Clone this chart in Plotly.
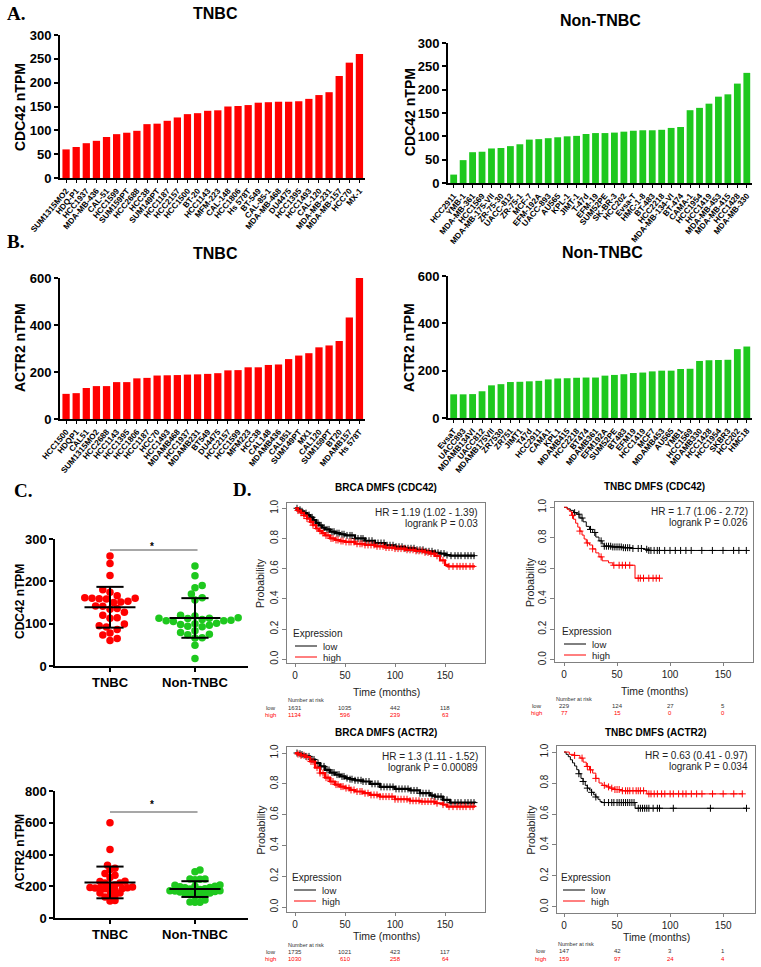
import numpy as np
import plotly.graph_objects as go

W, H = 761, 967
FONT = "Arial"
SERIF = "Liberation Serif"
RED = "#FF0000"
GREEN = "#1EC81E"

# ---------------- Data ----------------
tnbc_cdc42_lines = ["SUM1315MO2", "HDQ-P1", "HCC1937", "MDA-MB-436", "CAL-51", "HCC1599", "SUM159PT",
                    "HCC2688", "HCC38", "SUM149PT", "HCC1187", "HCC2157", "HCC1500", "BT-20", "HCC1143",
                    "MFM-223", "CAL-148", "HCC1806", "Hs 578T", "BT-549", "CAL-85-1", "MDA-MB-468",
                    "DU4475", "HCC1395", "HCC1493", "CAL-120", "MDA-MB-231", "MDA-MB-157", "HCC70", "MX-1"]
tnbc_cdc42_vals = [60, 65, 73, 78, 86, 92, 95, 99, 113, 114, 120, 127, 134, 136, 141, 142, 150, 151,
                   153, 158, 159, 160, 160, 161, 166, 174, 180, 214, 242, 260]

non_cdc42_lines = ["HCC2911", "YMB-1", "MDA-MB-361", "HCC1569", "MDA-MB-175-VII", "ZR-75-30", "UACC-812",
                   "ZR-75-1", "MCF-7", "EFM-192A", "UACC-893", "AU565", "KPL-1", "JIMT-1", "T-47d",
                   "EFM-19", "SUM52PE", "SK-BR-3", "HCC202", "Evsa-T", "HMC-1-8", "BT-483", "HCC2218",
                   "MDA-MB-134-VI", "BT-474", "CAMA-1", "HCC1954", "HCC1419", "MDA-MB-453", "MDA-MB-415",
                   "HCC1428", "MDA-MB-330"]
non_cdc42_vals = [18, 49, 66, 67, 74, 75, 79, 83, 93, 94, 96, 98, 100, 101, 105, 107, 107, 108, 110,
                  112, 113, 113, 114, 118, 120, 156, 161, 170, 185, 190, 213, 236]

tnbc_actr2_lines = ["HCC1500", "HDQP1", "CAL51", "SUM1315MO2", "HCC2688", "HCC1143", "HCC1395", "HCC1806",
                    "HCC1187", "HCC70", "HCC1493", "MDAMB468", "HCC1937", "MDAMB231", "BT549", "DU4475",
                    "HCC2157", "HCC1599", "MFM223", "HCC38", "CAL148", "MDAMB436", "CAL851", "SUM149PT",
                    "MX1", "CAL120", "SUM159PT", "BT20", "MDAMB157", "Hs 578T"]
tnbc_actr2_vals = [107, 110, 132, 140, 140, 157, 157, 173, 175, 185, 186, 187, 189, 190, 192, 195, 207,
                   208, 220, 220, 230, 232, 255, 270, 280, 305, 313, 332, 432, 600]

non_actr2_lines = ["EvsaT", "UACC893", "MDAMB134VI", "UACC812", "MDAMB175VII", "ZR7530", "ZR751", "JIMT1",
                   "T47d", "HCC2911", "CAMA1", "KPL1", "MDAMB415", "HCC2218", "BT474", "MDAMB361",
                   "EFM192A", "SUM52PE", "BT483", "EFM19", "HCC1419", "MCF7", "MDAMB453", "AU565", "YMB1",
                   "HCC1569", "MDAMB330", "HCC1428", "HCC1954", "SKBR3", "HCC202", "HMC18"]
non_actr2_vals = [100, 100, 101, 113, 138, 143, 152, 153, 155, 157, 163, 167, 168, 170, 171, 171, 179,
                  182, 185, 190, 192, 197, 200, 200, 207, 208, 241, 244, 245, 246, 291, 302]

group_labels = ["TNBC", "Non-TNBC"]

# Kaplan-Meier curves (time in months, survival probability)
brca_cdc42_low_t = [0, 3, 6, 9, 12, 15, 18, 21, 24, 27, 30, 35, 40, 45, 50, 60, 70, 80, 90, 100, 110, 120,
                    130, 140, 145, 150, 155, 180]
brca_cdc42_low_s = [1.0, 0.99, 0.98, 0.968, 0.955, 0.94, 0.922, 0.903, 0.887, 0.872, 0.86, 0.845, 0.835,
                    0.828, 0.82, 0.80, 0.785, 0.77, 0.755, 0.745, 0.735, 0.725, 0.715, 0.705, 0.70, 0.69,
                    0.686, 0.686]
brca_cdc42_high_t = [0, 3, 6, 9, 12, 15, 18, 21, 24, 27, 30, 35, 40, 45, 50, 60, 70, 80, 90, 100, 110, 120,
                     130, 135, 140, 145, 150, 153, 180]
brca_cdc42_high_s = [1.0, 0.985, 0.97, 0.952, 0.932, 0.91, 0.888, 0.866, 0.85, 0.835, 0.82, 0.80, 0.79,
                     0.783, 0.777, 0.765, 0.757, 0.748, 0.74, 0.733, 0.725, 0.718, 0.708, 0.70, 0.685, 0.655,
                     0.625, 0.615, 0.615]

tnbc_cdc42_low_t = [0, 3, 6, 9, 12, 15, 18, 21, 24, 27, 30, 33, 36, 38, 45, 55, 65, 75, 80, 172]
tnbc_cdc42_low_s = [1.0, 0.99, 0.98, 0.965, 0.955, 0.93, 0.905, 0.875, 0.855, 0.835, 0.805, 0.78, 0.76,
                    0.745, 0.74, 0.735, 0.73, 0.725, 0.717, 0.717]
tnbc_cdc42_high_t = [0, 3, 5, 7, 9, 11, 13, 15, 17, 19, 21, 24, 27, 30, 33, 36, 42, 46, 67, 90]
tnbc_cdc42_high_s = [1.0, 0.987, 0.974, 0.948, 0.922, 0.896, 0.87, 0.844, 0.818, 0.792, 0.766, 0.753,
                     0.727, 0.701, 0.675, 0.649, 0.636, 0.62, 0.535, 0.535]

brca_actr2_low_t = [0, 3, 6, 10, 15, 20, 25, 30, 35, 40, 45, 50, 55, 60, 68, 75, 85, 100, 115, 125, 135,
                    140, 148, 155, 180]
brca_actr2_low_s = [1.0, 0.995, 0.99, 0.978, 0.958, 0.935, 0.913, 0.89, 0.873, 0.86, 0.848, 0.837, 0.83,
                    0.823, 0.815, 0.80, 0.78, 0.767, 0.757, 0.739, 0.725, 0.717, 0.696, 0.678, 0.675]
brca_actr2_high_t = [0, 3, 6, 10, 15, 20, 25, 30, 35, 40, 45, 50, 55, 60, 68, 75, 85, 100, 115, 125, 140,
                     148, 152, 180]
brca_actr2_high_s = [1.0, 0.993, 0.985, 0.974, 0.945, 0.905, 0.87, 0.84, 0.815, 0.795, 0.782, 0.772, 0.76,
                     0.75, 0.739, 0.728, 0.717, 0.70, 0.69, 0.685, 0.674, 0.665, 0.652, 0.65]

tnbc_actr2_low_t = [0, 2, 4, 6, 8, 10, 12, 14, 16, 18, 20, 22, 24, 26, 28, 30, 32, 34, 36, 67, 172]
tnbc_actr2_low_s = [1.0, 0.985, 0.97, 0.95, 0.93, 0.91, 0.886, 0.86, 0.83, 0.81, 0.785, 0.767, 0.755,
                    0.74, 0.724, 0.71, 0.695, 0.68, 0.674, 0.637, 0.637]
tnbc_actr2_high_t = [0, 5, 10, 15, 18, 21, 24, 27, 30, 33, 36, 40, 43, 48, 53, 78, 168]
tnbc_actr2_high_s = [1.0, 0.985, 0.978, 0.961, 0.935, 0.907, 0.885, 0.864, 0.83, 0.80, 0.785, 0.775,
                     0.767, 0.758, 0.75, 0.73, 0.73]

# censoring times
brca_low_cens = [2, 5, 7, 11, 14, 17, 19, 23, 26, 29, 32, 34, 37, 39, 42, 44, 47, 49, 52, 55, 57, 60, 63,
                 66, 68, 71, 74, 77, 80, 83, 86, 89, 92, 95, 98, 101, 104, 107, 110, 113, 116, 119, 122,
                 125, 128, 131, 134, 137, 140, 143, 146, 149, 152, 156, 160, 163, 166, 170, 173, 176, 179]
brca_high_cens = [3, 6, 9, 12, 16, 18, 22, 25, 28, 31, 33, 36, 38, 41, 43, 46, 48, 51, 54, 56, 59, 62,
                  65, 67, 70, 73, 76, 79, 82, 85, 88, 91, 94, 97, 100, 103, 106, 109, 112, 115, 118, 121,
                  124, 127, 130, 133, 136, 139, 142, 148, 154, 158, 162, 165, 168, 171, 175, 178]
tnbc_cdc42_low_cens = [10, 14, 17, 25, 29, 35, 38, 40, 42, 44, 46, 48, 50, 52, 54, 56, 58, 60, 62, 65, 70,
                       73, 78, 80, 82, 85, 88, 90, 95, 100, 105, 110, 115, 120, 130, 140, 150, 160, 165, 172]
tnbc_cdc42_high_cens = [8, 15, 22, 27, 35, 47, 52, 55, 58, 62, 70, 72, 75, 80, 84, 87, 90]
tnbc_actr2_high_cens = [10, 17, 22, 25, 30, 38, 42, 45, 48, 50, 52, 55, 58, 60, 62, 65, 68, 70, 72, 75, 80,
                        82, 85, 88, 92, 95, 100, 103, 108, 112, 115, 120, 125, 130, 140, 150, 160, 168]
tnbc_actr2_low_cens = [14, 18, 22, 26, 30, 38, 42, 45, 47, 50, 52, 54, 56, 58, 60, 62, 64, 66, 70, 72, 74,
                       76, 78, 80, 84, 88, 90, 103, 138, 172]

risk_times = [0, 50, 100, 150]
brca_cdc42_risk_low = [1631, 1035, 442, 118]
brca_cdc42_risk_high = [1134, 596, 239, 63]
tnbc_cdc42_risk_low = [229, 124, 27, 5]
tnbc_cdc42_risk_high = [77, 15, 0, 0]
brca_actr2_risk_low = [1735, 1021, 423, 117]
brca_actr2_risk_high = [1030, 610, 258, 64]
tnbc_actr2_risk_low = [147, 42, 3, 1]
tnbc_actr2_risk_high = [159, 97, 24, 4]

# ---------------- Figure ----------------
fig = go.Figure()
layout = dict(template="none", width=W, height=H, autosize=False,
              margin=dict(l=0, r=0, t=0, b=0, pad=0), paper_bgcolor="white",
              plot_bgcolor="white", showlegend=False, bargap=0.28,
              font=dict(family=FONT, color="black"))
annotations = []
shapes = []


def X(p):
    return p / W


def Y(p):
    return 1 - p / H


def axn(kind, i):
    return f"{kind}axis" if i == 1 else f"{kind}axis{i}"


def ref(kind, i):
    return kind if i == 1 else f"{kind}{i}"


def txt(x, y, s, size=10, color="black", bold=False, xanchor="center", yanchor="middle", angle=0,
        family=FONT):
    annotations.append(dict(x=X(x), y=Y(y), xref="paper", yref="paper", text=s, showarrow=False,
                            font=dict(size=size, color=color, family=family,
                                      weight="bold" if bold else "normal"),
                            xanchor=xanchor, yanchor=yanchor, textangle=angle, borderpad=0))


def vtxt(x, y, s, size, bold=False, color="black"):
    txt(x, y, s, size=size, bold=bold, angle=-90, color=color)


def bar_panel(i, cats, vals, color, x0, x1, ytop, ybot, ymax, dtick):
    fig.add_trace(go.Bar(x=cats, y=vals, marker=dict(color=color, line=dict(width=0)),
                         xaxis=ref("x", i), yaxis=ref("y", i), hoverinfo="x+y"))
    layout[axn("x", i)] = dict(domain=[X(x0), X(x1)], anchor=ref("y", i), type="category",
                               range=[-0.6, len(cats) - 0.45], tickangle=-50, automargin=False,
                               tickmode="array", tickvals=cats, ticktext=cats,
                               tickfont=dict(size=8.2, weight="bold", family=FONT, color="black"),
                               showline=True, linecolor="black", linewidth=2, ticks="outside",
                               ticklen=3, tickwidth=1, tickcolor="black", showgrid=False, zeroline=False)
    layout[axn("y", i)] = dict(domain=[Y(ybot), Y(ytop)], anchor=ref("x", i), range=[0, ymax],
                               dtick=dtick, automargin=False,
                               tickfont=dict(size=13, weight="bold", family=FONT, color="black"),
                               showline=True, linecolor="black", linewidth=2, ticks="outside",
                               ticklen=4, tickwidth=2, tickcolor="black", showgrid=False, zeroline=False)


bar_panel(1, tnbc_cdc42_lines, tnbc_cdc42_vals, RED, 60, 365, 35, 178, 300, 50)
bar_panel(2, non_cdc42_lines, non_cdc42_vals, GREEN, 448, 752, 43, 183, 300, 50)
bar_panel(3, tnbc_actr2_lines, tnbc_actr2_vals, RED, 60, 365, 278, 419, 600, 200)
bar_panel(4, non_actr2_lines, non_actr2_vals, GREEN, 448, 752, 276, 418, 600, 200)

txt(215, 13, "TNBC", size=16, bold=True)
txt(600, 20, "Non-TNBC", size=16, bold=True)
txt(215, 253, "TNBC", size=16, bold=True)
txt(602, 252, "Non-TNBC", size=16, bold=True)
vtxt(20, 107, "CDC42 nTPM", 14, bold=True)
vtxt(410, 112, "CDC42 nTPM", 14, bold=True)
vtxt(20, 348, "ACTR2 nTPM", 14, bold=True)
vtxt(409, 347, "ACTR2 nTPM", 14, bold=True)


# ---------- Panel C: dot plots ----------
def swarm(vals, sy, sx, d):
    vals = np.asarray(vals, dtype=float)
    order = np.argsort(vals, kind="stable")
    placed = []
    offs = np.zeros(len(vals))
    cands = [0.0]
    for j in range(1, 60):
        cands += [j * d / 2, -j * d / 2]
    for idx in order:
        yv = vals[idx] * sy
        for c in cands:
            if all((c - px) ** 2 + (yv - py) ** 2 >= (d * 0.95) ** 2 for px, py in placed):
                break
        placed.append((c, yv))
        offs[idx] = c / sx
    return offs


def dot_panel(i, v1, v2, x0, x1, ytop, ybot, ymax, dtick, sig_y, star_y, title, ttl_y, sep):
    xr = [-0.647, 1.624]
    sx = (x1 - x0) / (xr[1] - xr[0])
    sy = (ybot - ytop) / ymax
    for g, (vals, color) in enumerate([(v1, RED), (v2, GREEN)]):
        offs = swarm(vals, sy, sx, sep)
        fig.add_trace(go.Scatter(x=g + offs, y=vals, mode="markers",
                                 marker=dict(color=color, size=7.5, line=dict(width=0)),
                                 xaxis=ref("x", i), yaxis=ref("y", i)))
        m = float(np.mean(vals))
        sd = float(np.std(vals, ddof=1))
        lx = [g - 0.3, g + 0.3, None, g, g, None, g - 0.16, g + 0.16, None, g - 0.16, g + 0.16]
        ly = [m, m, None, m - sd, m + sd, None, m - sd, m - sd, None, m + sd, m + sd]
        fig.add_trace(go.Scatter(x=lx, y=ly, mode="lines", line=dict(color="black", width=2),
                                 xaxis=ref("x", i), yaxis=ref("y", i), hoverinfo="skip"))
    fig.add_trace(go.Scatter(x=[0, 1.03], y=[sig_y, sig_y], mode="lines",
                             line=dict(color="#8a8a8a", width=1.5),
                             xaxis=ref("x", i), yaxis=ref("y", i), hoverinfo="skip"))
    annotations.append(dict(x=0.5, y=star_y, xref=ref("x", i), yref=ref("y", i), text="*",
                            showarrow=False, font=dict(size=10, weight="bold", color="black")))
    layout[axn("x", i)] = dict(domain=[X(x0), X(x1)], anchor=ref("y", i), range=xr, automargin=False,
                               tickvals=[0, 1], ticktext=group_labels,
                               tickfont=dict(size=13, weight="bold", family=FONT, color="black"),
                               showline=True, linecolor="black", linewidth=1.5, ticks="outside",
                               ticklen=4, tickwidth=1.5, tickcolor="black", showgrid=False, zeroline=False)
    layout[axn("y", i)] = dict(domain=[Y(ybot), Y(ytop)], anchor=ref("x", i), range=[0, ymax],
                               dtick=dtick, automargin=False,
                               tickfont=dict(size=13, weight="bold", family=FONT, color="black"),
                               showline=True, linecolor="black", linewidth=1.5, ticks="outside",
                               ticklen=4, tickwidth=1.5, tickcolor="black", showgrid=False, zeroline=False)
    vtxt(20, ttl_y, title, 12, bold=True)


dot_panel(5, tnbc_cdc42_vals, non_cdc42_vals, 55, 248, 539, 666, 300, 100, 274, 283,
          "CDC42 nTPM", 602, 7.2)
dot_panel(6, tnbc_actr2_vals, non_actr2_vals, 55, 248, 791, 918, 800, 200, 668, 715,
          "ACTR2 nTPM", 852, 5.0)


# ---------- Panel D: Kaplan-Meier ----------
def step_at(ts, ss, t):
    k = 0
    for j, tj in enumerate(ts):
        if tj <= t:
            k = j
    return ss[k]


def km_panel(i, cfg):
    bx0, bx1, by0, by1 = cfg["box"]
    for (ts, ss, cens, color, lw) in cfg["curves"]:
        fig.add_trace(go.Scatter(x=ts, y=ss, mode="lines", line=dict(color=color, width=lw, shape="hv"),
                                 xaxis=ref("x", i), yaxis=ref("y", i), hoverinfo="skip"))
        fig.add_trace(go.Scatter(x=cens, y=[step_at(ts, ss, c) for c in cens], mode="markers",
                                 marker=dict(symbol="cross-thin", size=5, line=dict(color=color, width=1)),
                                 xaxis=ref("x", i), yaxis=ref("y", i), hoverinfo="skip"))
    layout[axn("x", i)] = dict(domain=[X(bx0), X(bx1)], anchor=ref("y", i), range=cfg["xr"],
                               automargin=False,
                               tickvals=[0, 50, 100, 150], tickfont=dict(size=10, color="#222"),
                               showline=True, mirror=True, linecolor="#808080", linewidth=1,
                               ticks="outside", ticklen=3, tickcolor="#808080", showgrid=False,
                               zeroline=False)
    layout[axn("y", i)] = dict(domain=[Y(by1), Y(by0)], anchor=ref("x", i), range=cfg["yr"],
                               automargin=False,
                               tickvals=[0, 0.2, 0.4, 0.6, 0.8, 1.0],
                               ticktext=["0.0", "0.2", "0.4", "0.6", "0.8", "1.0"], tickangle=-90,
                               tickfont=dict(size=10, color="#222"), showline=True, mirror=True,
                               linecolor="#808080", linewidth=1, ticks="outside", ticklen=4,
                               tickcolor="#808080", showgrid=False, zeroline=False)
    cx = (bx0 + bx1) / 2
    txt(cx, cfg["title_y"], cfg["title"], size=10, bold=True)
    vtxt(cfg["prob_x"], (by0 + by1) / 2, "Probability", 10.5, color="#222")
    txt(cx, cfg["time_y"], "Time (months)", size=10.5, color="#222")
    txt(cfg["hr_x"], cfg["hr_y"], cfg["hr"], size=10, xanchor="right", color="#222")
    txt(cfg["hr_x"], cfg["hr_y"] + 11, cfg["lr"], size=10, xanchor="right", color="#222")
    lx0, lyE, lyL, lyH = cfg["leg"]
    txt(lx0, lyE, "Expression", size=10, xanchor="left", color="#222")
    for yy, lab, col in [(lyL, "low", "black"), (lyH, "high", RED)]:
        shapes.append(dict(type="line", xref="paper", yref="paper", x0=X(lx0 + 3), x1=X(lx0 + 25),
                           y0=Y(yy), y1=Y(yy), line=dict(color=col, width=1)))
        txt(lx0 + 30, yy, lab, size=9.5, xanchor="left", color="#222")
    x0px, ppm = cfg["x0px"], cfg["ppm"]
    ry0, ry1, ry2 = cfg["risk_y"]
    txt(bx0, ry0, "Number at risk", size=5.5, xanchor="left", color="#333")
    txt(cfg["risk_lab_x"], ry1, "low", size=6, xanchor="right", color="#333")
    txt(cfg["risk_lab_x"], ry2, "high", size=6, xanchor="right", color=RED)
    for t, nl, nh in zip(risk_times, cfg["risk_low"], cfg["risk_high"]):
        txt(x0px + t * ppm, ry1, str(nl), size=6, color="#333")
        txt(x0px + t * ppm, ry2, str(nh), size=6, color=RED)


km_panel(7, dict(box=(287, 485, 503, 663), xr=[-8, 190], yr=[-0.025, 1.035],
                 curves=[(brca_cdc42_low_t, brca_cdc42_low_s, brca_low_cens, "black", 2.2),
                         (brca_cdc42_high_t, brca_cdc42_high_s, brca_high_cens, RED, 2.2)],
                 title="BRCA DMFS (CDC42)", title_y=487, prob_x=260, time_y=692,
                 hr="HR = 1.19 (1.02 - 1.39)", lr="logrank P = 0.03", hr_x=479, hr_y=512,
                 leg=(292, 633, 646, 657), x0px=295, ppm=1.0, risk_y=(700, 708, 715), risk_lab_x=277,
                 risk_low=brca_cdc42_risk_low, risk_high=brca_cdc42_risk_high))
km_panel(8, dict(box=(555, 753, 502, 662), xr=[-8.5, 178.3], yr=[-0.015, 1.035],
                 curves=[(tnbc_cdc42_low_t, tnbc_cdc42_low_s, tnbc_cdc42_low_cens, "black", 1),
                         (tnbc_cdc42_high_t, tnbc_cdc42_high_s, tnbc_cdc42_high_cens, RED, 1)],
                 title="TNBC DMFS (CDC42)", title_y=486, prob_x=530, time_y=691,
                 hr="HR = 1.7 (1.06 - 2.72)", lr="logrank P = 0.026", hr_x=749, hr_y=511,
                 leg=(561, 631, 644, 655), x0px=564, ppm=1.06, risk_y=(699, 706, 713), risk_lab_x=543,
                 risk_low=tnbc_cdc42_risk_low, risk_high=tnbc_cdc42_risk_high))
km_panel(9, dict(box=(287, 485, 747, 912), xr=[-8, 190], yr=[-0.032, 1.039],
                 curves=[(brca_actr2_low_t, brca_actr2_low_s, brca_low_cens, "black", 2.2),
                         (brca_actr2_high_t, brca_actr2_high_s, brca_high_cens, RED, 2.2)],
                 title="BRCA DMFS (ACTR2)", title_y=732, prob_x=260, time_y=936,
                 hr="HR = 1.3 (1.11 - 1.52)", lr="logrank P = 0.00089", hr_x=479, hr_y=756,
                 leg=(291, 877, 890, 901), x0px=295, ppm=1.0, risk_y=(945, 952, 959), risk_lab_x=277,
                 risk_low=brca_actr2_risk_low, risk_high=brca_actr2_risk_high))
km_panel(10, dict(box=(557, 755, 746, 913), xr=[-6.6, 180], yr=[-0.039, 1.039],
                  curves=[(tnbc_actr2_low_t, tnbc_actr2_low_s, tnbc_actr2_low_cens, "black", 1),
                          (tnbc_actr2_high_t, tnbc_actr2_high_s, tnbc_actr2_high_cens, RED, 1)],
                  title="TNBC DMFS (ACTR2)", title_y=732, prob_x=530, time_y=937,
                  hr="HR = 0.63 (0.41 - 0.97)", lr="logrank P = 0.034", hr_x=749, hr_y=755,
                  leg=(560, 877, 890, 901), x0px=564, ppm=1.06, risk_y=(944, 951, 959), risk_lab_x=547,
                  risk_low=tnbc_actr2_risk_low, risk_high=tnbc_actr2_risk_high))

# panel letters
txt(16, 13, "A.", size=19, bold=True, family=SERIF)
txt(15, 241, "B.", size=19, bold=True, family=SERIF)
txt(23, 490, "C.", size=19, bold=True, family=SERIF)
txt(242, 489, "D.", size=19, bold=True, family=SERIF)

layout["annotations"] = annotations
layout["shapes"] = shapes
fig.update_layout(**layout)
fig.write_html("out.html")
